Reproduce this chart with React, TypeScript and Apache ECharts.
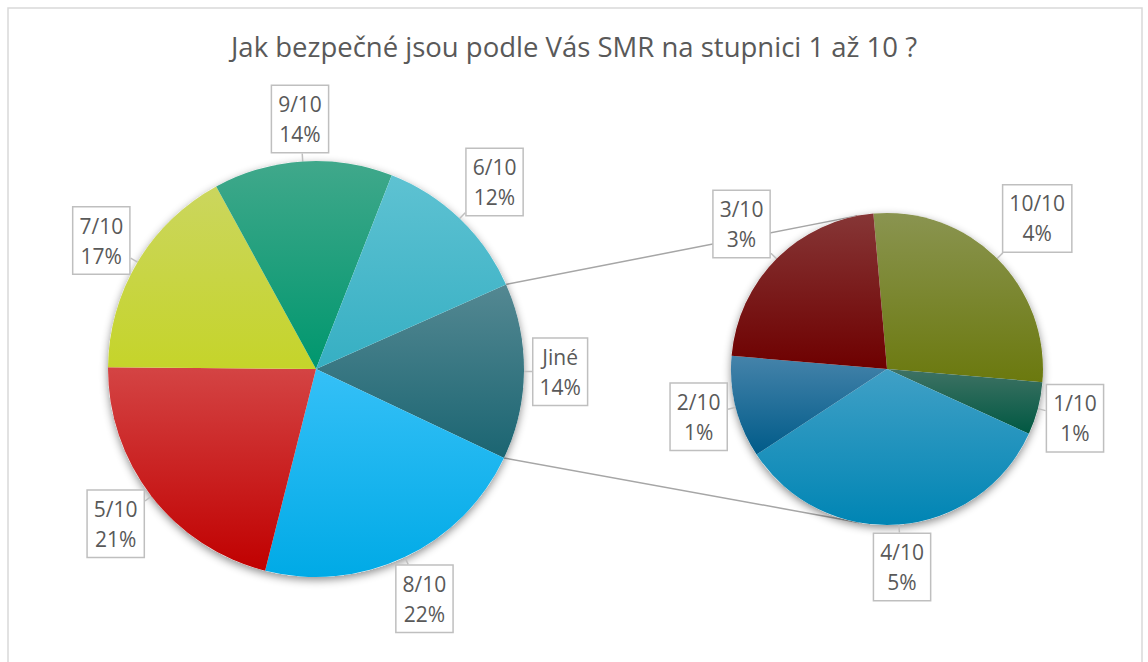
import React, { useEffect, useRef } from 'react';
import * as echarts from 'echarts';

const TITLE = 'Jak bezpečné jsou podle Vás SMR na stupnici 1 až 10 ?';

// Main pie (percent of all answers), clockwise starting with the "Jiné" group
const mainCategories = ['Jiné', '8/10', '5/10', '7/10', '9/10', '6/10'];
const mainValues = [13.7, 21.9, 21.2, 16.9, 13.9, 12.4];
const mainColors: [string, string][] = [
  ['#548892', '#1b6572'],
  ['#35c0f7', '#00aae6'],
  ['#d44444', '#c00000'],
  ['#cbd65e', '#c5d42a'],
  ['#40a88b', '#00976e'],
  ['#5ec2d2', '#36afc3'],
];

// Secondary pie: breakdown of "Jiné" (percent of all answers)
const subCategories = ['10/10', '1/10', '4/10', '2/10', '3/10'];
const subValues = [3.8, 0.75, 4.65, 1.45, 3.05];
const subColors: [string, string][] = [
  ['#8a9450', '#6b790e'],
  ['#3f7264', '#005842'],
  ['#40a0c6', '#0085b4'],
  ['#4583aa', '#005b89'],
  ['#863636', '#6e0000'],
];

const MAIN = { cx: 316, cy: 369, r: 208, start: 24 };
const SUB = { cx: 887, cy: 369, r: 156, start: 95 };
const GAP = 8;
const TEXT = '#595959';
const FONT = 'Open Sans';

function midAngles(values: number[], start: number): number[] {
  const total = values.reduce((a, b) => a + b, 0);
  let cum = 0;
  return values.map((v) => {
    const a = start - ((cum + v / 2) / total) * 360;
    cum += v;
    return (a * Math.PI) / 180;
  });
}

function makeLayout(geo: { cx: number; cy: number; r: number }, mids: number[]) {
  return (params: any) => {
    const a = mids[params.dataIndex];
    const ux = Math.cos(a);
    const uy = -Math.sin(a);
    const hw = params.labelRect.width / 2;
    const hh = params.labelRect.height / 2;
    const ex1 = Math.abs(ux) > 1e-6 ? hw / Math.abs(ux) : Infinity;
    const ex2 = Math.abs(uy) > 1e-6 ? hh / Math.abs(uy) : Infinity;
    const ext = Math.min(ex1, ex2);
    const d = geo.r + GAP + ext;
    const x = geo.cx + ux * d;
    const y = geo.cy + uy * d;
    const px = geo.cx + ux * geo.r;
    const py = geo.cy + uy * geo.r;
    const bx = x - ux * ext;
    const by = y - uy * ext;
    return {
      x,
      y,
      align: 'center',
      verticalAlign: 'middle',
      labelLinePoints: [
        [px, py],
        [bx, by],
        [bx, by],
      ],
    };
  };
}

// outer tangent point on circle (c, r) seen from point p, side = +1 (upper) / -1 (lower)
function tangentPoint(px: number, py: number, c: { cx: number; cy: number; r: number }, side: number) {
  const dx = px - c.cx;
  const dy = -(py - c.cy);
  const d = Math.sqrt(dx * dx + dy * dy);
  const base = Math.atan2(dy, dx);
  const t = base - side * Math.acos(c.r / d);
  return [c.cx + c.r * Math.cos(t), c.cy - c.r * Math.sin(t)];
}

function grad(c: [string, string]) {
  return new echarts.graphic.LinearGradient(0, 0, 0, 1, [
    { offset: 0, color: c[0] },
    { offset: 1, color: c[1] },
  ]);
}

const labelCommon = {
  show: true,
  position: 'outside',
  color: TEXT,
  fontFamily: FONT,
  fontSize: 21,
  lineHeight: 30,
  backgroundColor: '#ffffff',
  borderColor: '#bfbfbf',
  borderWidth: 1.5,
  padding: [3, 6, 3, 6],
  align: 'center',
  formatter: (p: any) => `${p.name}\n${Math.round(p.value)}%`,
};

const labelLineCommon = {
  show: true,
  length: 4,
  length2: 4,
  lineStyle: { color: '#bfbfbf', width: 1.5 },
};

export default function App() {
  const ref = useRef<HTMLDivElement>(null);
  useEffect(() => {
    if (!ref.current) return;
    const chart = echarts.init(ref.current, undefined, { renderer: 'svg' });

    const mainTotal = mainValues.reduce((a, b) => a + b, 0);
    const subTotal = subValues.reduce((a, b) => a + b, 0);
    const otherSpan = (mainValues[0] / mainTotal) * 360;
    const topA = (MAIN.start * Math.PI) / 180;
    const botA = ((MAIN.start - otherSpan) * Math.PI) / 180;
    const topP = [MAIN.cx + MAIN.r * Math.cos(topA), MAIN.cy - MAIN.r * Math.sin(topA)];
    const botP = [MAIN.cx + MAIN.r * Math.cos(botA), MAIN.cy - MAIN.r * Math.sin(botA)];
    const topT = tangentPoint(topP[0], topP[1], SUB, 1);
    const botT = tangentPoint(botP[0], botP[1], SUB, -1);

    const shadowStyle = {
      color: '#ffffff',
      shadowBlur: 9,
      shadowColor: 'rgba(0,0,0,0.45)',
      shadowOffsetX: 0,
      shadowOffsetY: 3,
    };

    chart.setOption({
      animation: false,
      backgroundColor: '#ffffff',
      title: {
        text: TITLE,
        left: 'center',
        top: 27,
        textStyle: { color: TEXT, fontFamily: FONT, fontSize: 27.5, fontWeight: 'normal' },
      },
      graphic: [
        {
          type: 'rect',
          shape: { x: 8, y: 8, width: 1134, height: 720 },
          style: { fill: 'none', stroke: '#d9d9d9', lineWidth: 1.5 },
          silent: true,
          z: -10,
        },
        {
          type: 'line',
          shape: { x1: topP[0], y1: topP[1], x2: topT[0], y2: topT[1] },
          style: { stroke: '#a6a6a6', lineWidth: 1.5 },
          z: 1,
        },
        {
          type: 'line',
          shape: { x1: botP[0], y1: botP[1], x2: botT[0], y2: botT[1] },
          style: { stroke: '#a6a6a6', lineWidth: 1.5 },
          z: 1,
        },
      ],
      series: [
        {
          type: 'pie',
          silent: true,
          z: 1,
          center: [MAIN.cx, MAIN.cy],
          radius: MAIN.r,
          label: { show: false },
          labelLine: { show: false },
          itemStyle: shadowStyle,
          data: [{ value: mainTotal, name: 'shadow-main' }],
        },
        {
          type: 'pie',
          silent: true,
          z: 1,
          center: [SUB.cx, SUB.cy],
          radius: SUB.r,
          label: { show: false },
          labelLine: { show: false },
          itemStyle: shadowStyle,
          data: [{ value: subTotal, name: 'shadow-sub' }],
        },
        {
          type: 'pie',
          z: 3,
          center: [MAIN.cx, MAIN.cy],
          radius: MAIN.r,
          startAngle: MAIN.start,
          clockwise: true,
          avoidLabelOverlap: false,
          minShowLabelAngle: 0,
          label: labelCommon,
          labelLine: labelLineCommon,
          labelLayout: makeLayout(MAIN, midAngles(mainValues, MAIN.start)),
          itemStyle: { borderWidth: 0 },
          emphasis: { disabled: true },
          data: mainCategories.map((name, i) => ({
            name,
            value: mainValues[i],
            itemStyle: { color: grad(mainColors[i]) },
          })),
        },
        {
          type: 'pie',
          z: 3,
          center: [SUB.cx, SUB.cy],
          radius: SUB.r,
          startAngle: SUB.start,
          clockwise: true,
          avoidLabelOverlap: false,
          minShowLabelAngle: 0,
          label: labelCommon,
          labelLine: labelLineCommon,
          labelLayout: makeLayout(SUB, midAngles(subValues, SUB.start)),
          itemStyle: { borderWidth: 0 },
          emphasis: { disabled: true },
          data: subCategories.map((name, i) => ({
            name,
            value: subValues[i],
            itemStyle: { color: grad(subColors[i]) },
          })),
        },
      ],
    });
    return () => chart.dispose();
  }, []);

  return (
    <div
      ref={ref}
      style={{ position: 'absolute', left: 0, top: 0, width: 1148, height: 662 }}
    />
  );
}
